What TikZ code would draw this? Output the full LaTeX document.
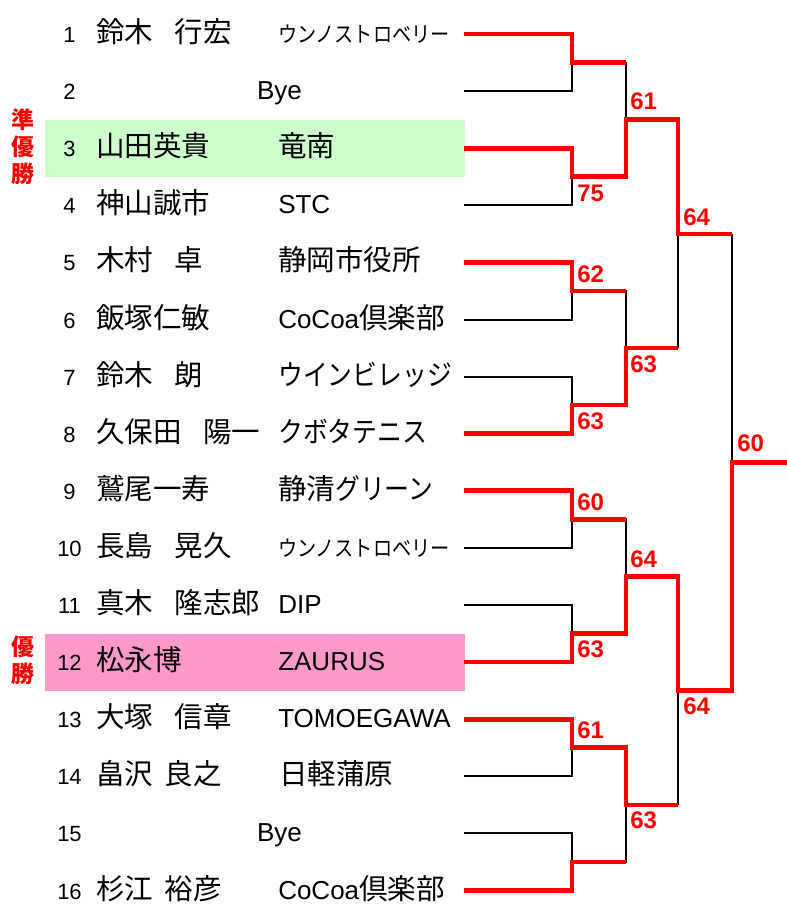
\documentclass[tikz,border=0pt]{standalone}
\usepackage{fontspec}
\setmainfont{Liberation Sans}
\newfontfamily\cjkf{Noto Sans CJK JP}
\newfontfamily\kanaf[FakeStretch=0.87]{Noto Sans CJK JP}
\newcommand\fnum{\fontsize{16.5pt}{18pt}\selectfont}
\newcommand\fname{\cjkf\fontsize{21.4pt}{24pt}\selectfont}
\newcommand\fclub{\fontsize{19.5pt}{22pt}\selectfont}
\newcommand\fscore{\fontsize{18pt}{20pt}\selectfont\bfseries}
\newcommand\jk[1]{{\cjkf\fontsize{21.4pt}{24pt}\selectfont #1}}
\newcommand\ka[1]{{\kanaf\fontsize{21.4pt}{24pt}\selectfont #1}}
\newcommand\kasm[1]{{\kanaf\fontsize{16.5pt}{18pt}\selectfont #1}}
\newcommand\wsp{\hspace{0.75em}}
\newcommand\hsp{\hspace{0.4em}}
\begin{document}
\begin{tikzpicture}[x=0.75pt,y=-0.75pt,
  blk/.style={line width=1.5pt, black},
  win/.style={line width=3.5pt, red},
  num/.style={anchor=base, inner sep=0pt, font=\fnum},
  nm/.style={anchor=base west, inner sep=0pt, font=\fname},
  club/.style={anchor=base west, inner sep=0pt, font=\fclub},
  bye/.style={anchor=base, inner sep=0pt, font=\fclub},
  score/.style={anchor=west, inner sep=0pt, text=red, font=\fscore},
  prize/.style={align=center, inner sep=0pt, text=red, font=\cjkf\bfseries\fontsize{17.25pt}{20.25pt}\selectfont},
  hl/.style={draw=none, inner sep=0pt, outer sep=0pt, minimum width=315pt, minimum height=42.75pt, anchor=north west}]
\useasboundingbox (0,0) rectangle (787,910);

% highlight rows
\node[hl, fill={rgb,255:red,204;green,255;blue,204}] (hl3) at (45,120) {};
\node[hl, fill={rgb,255:red,255;green,153;blue,204}] (hl12) at (45,633.5) {};

% row line starts
\foreach \k/\y in {1/34,2/91.1,3/148.2,4/205.3,5/262.4,6/319.5,7/376.6,8/433.7,
                   9/490.8,10/547.9,11/605,12/662.1,13/719.2,14/776.3,15/833.4,16/890.5}
  \coordinate (s\k) at (464,\y);
% round 1 junctions
\foreach \i/\y in {1/62.55,2/176.75,3/290.95,4/405.15,5/519.35,6/633.55,7/747.75,8/861.95}{
  \coordinate (j\i) at (572,\y);
  \coordinate (k\i) at (626,\y);
}
% round 2 junctions
\foreach \i/\y in {1/119.65,2/348.05,3/576.45,4/804.85}
  \coordinate (l\i) at (678,\y);
% round 3 junctions
\coordinate (m1) at (732,233.85);
\coordinate (m2) at (732,690.65);
\coordinate (f) at (787,462.25);

% black bracket
\foreach \k in {1,...,16}{
  \pgfmathtruncatemacro\jj{(\k+1)/2}
  \draw[blk] (s\k) -| (j\jj);
}
\foreach \i in {1,...,8}{
  \pgfmathtruncatemacro\ll{(\i+1)/2}
  \draw[blk] (j\i) -- (k\i) |- (l\ll);
}
\draw[blk] (l1) |- (m1);
\draw[blk] (l2) |- (m1);
\draw[blk] (l3) |- (m2);
\draw[blk] (l4) |- (m2);
\draw[blk] (m1) |- (f);
\draw[blk] (m2) |- (f);

% winners
\draw[win] (s1) -| (j1) -- (k1);
\draw[win] (s3) -| (j2) -- (k2) |- (l1) |- (m1);
\draw[win] (s5) -| (j3) -- (k3);
\draw[win] (s8) -| (j4) -- (k4) |- (l2);
\draw[win] (s9) -| (j5) -- (k5);
\draw[win] (s12) -| (j6) -- (k6) |- (l3) |- (m2) |- (f);
\draw[win] (s13) -| (j7) -- (k7) |- (l4);
\draw[win] (s16) -| (j8) -- (k8);

% scores
\node[score] (sc1) at (630,101.5) {61};
\node[score] (sc2) at (577,193.5) {75};
\node[score] (sc3) at (683,217.5) {64};
\node[score] (sc4) at (577,274) {62};
\node[score] (sc5) at (630,364) {63};
\node[score] (sc6) at (577,421) {63};
\node[score] (sc7) at (737,443.5) {60};
\node[score] (sc8) at (577,502) {60};
\node[score] (sc9) at (630,559) {64};
\node[score] (sc10) at (577,649) {63};
\node[score] (sc11) at (577,730) {61};
\node[score] (sc12) at (630,820) {63};
\node[score] (sc13) at (683,706.5) {64};

% numbers
\foreach \k in {1,...,16}
  \node[num] (n\k) at (69.5,{42.5+(\k-1)*57.1}) {\k};

% names
\node[nm] (nm1) at (96,42.5) {鈴木\wsp 行宏};
\node[nm] (nm3) at (96,156.7) {山田英貴};
\node[nm] (nm4) at (96,213.8) {神山誠市};
\node[nm] (nm5) at (96,270.9) {木村\wsp 卓};
\node[nm] (nm6) at (96,328) {飯塚仁敏};
\node[nm] (nm7) at (96,385.1) {鈴木\wsp 朗};
\node[nm] (nm8) at (96,442.2) {久保田\wsp 陽一};
\node[nm] (nm9) at (96,499.3) {鷲尾一寿};
\node[nm] (nm10) at (96,556.4) {長島\wsp 晃久};
\node[nm] (nm11) at (96,613.5) {真木\wsp 隆志郎};
\node[nm] (nm12) at (96,670.6) {松永博};
\node[nm] (nm13) at (96,727.7) {大塚\wsp 信章};
\node[nm] (nm14) at (96,784.8) {畠沢\hsp 良之};
\node[nm] (nm16) at (96,899) {杉江\hsp 裕彦};

% clubs
\node[club] (cl1) at (278,42.5) {\kasm{ウンノストロベリー}};
\node[bye] (cl2) at (279.5,99.6) {Bye};
\node[club] (cl3) at (278,156.7) {\jk{竜南}};
\node[club] (cl4) at (278,213.8) {STC};
\node[club] (cl5) at (278,270.9) {\jk{静岡市役所}};
\node[club] (cl6) at (278,328) {CoCoa\jk{倶楽部}};
\node[club] (cl7) at (278,385.1) {\ka{ウインビレッジ}};
\node[club] (cl8) at (278,442.2) {\ka{クボタテニス}};
\node[club] (cl9) at (278,499.3) {\jk{静清}\ka{グリーン}};
\node[club] (cl10) at (278,556.4) {\kasm{ウンノストロベリー}};
\node[club] (cl11) at (278,613.5) {DIP};
\node[club] (cl12) at (278,670.6) {ZAURUS};
\node[club] (cl13) at (278,727.7) {TOMOEGAWA};
\node[club] (cl14) at (279,784.8) {\jk{日軽蒲原}};
\node[bye] (cl15) at (279.5,841.9) {Bye};
\node[club] (cl16) at (278,899) {CoCoa\jk{倶楽部}};

% prizes
\node[prize] (runnerup) at (23.5,147) {準\\優\\勝};
\node[prize] (champion) at (23.5,660) {優\\勝};
\end{tikzpicture}
\end{document}
